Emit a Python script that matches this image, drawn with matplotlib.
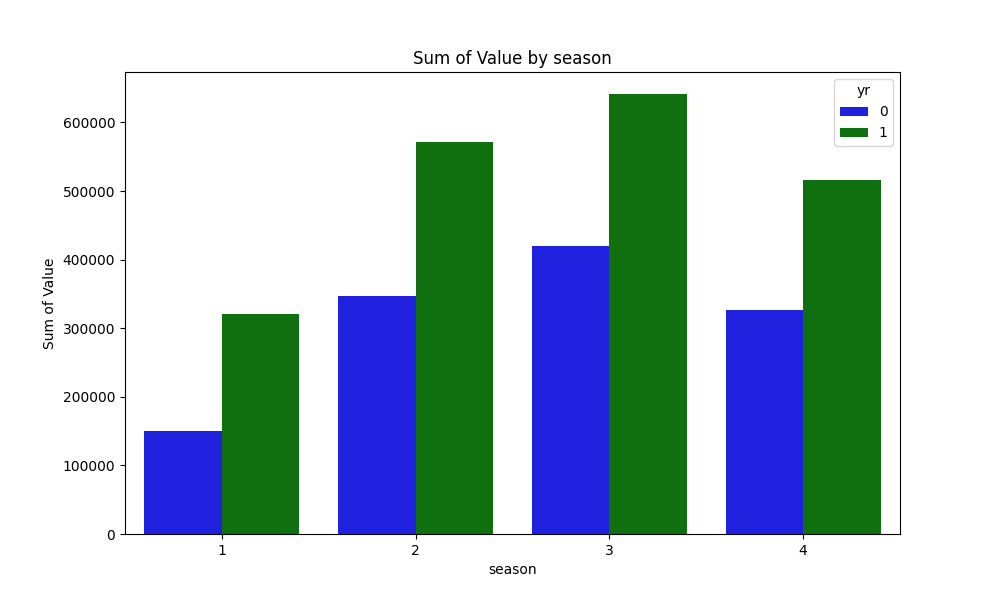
import matplotlib
matplotlib.use("Agg")
import matplotlib.pyplot as plt
import seaborn as sns
import pandas as pd

seasons = [1, 2, 3, 4]
yr0_values = [150000, 347316, 419650, 326137]
yr1_values = [321348, 571273, 641479, 515476]

df = pd.DataFrame({
    "season": seasons * 2,
    "yr": [0] * 4 + [1] * 4,
    "Value": yr0_values + yr1_values,
})

fig, ax = plt.subplots(figsize=(10, 6), dpi=100)
sns.barplot(data=df, x="season", y="Value", hue="yr", palette=["blue", "green"], ax=ax, errorbar=None)
ax.set_title("Sum of Value by season")
ax.set_xlabel("season")
ax.set_ylabel("Sum of Value")
fig.savefig("out.png")
